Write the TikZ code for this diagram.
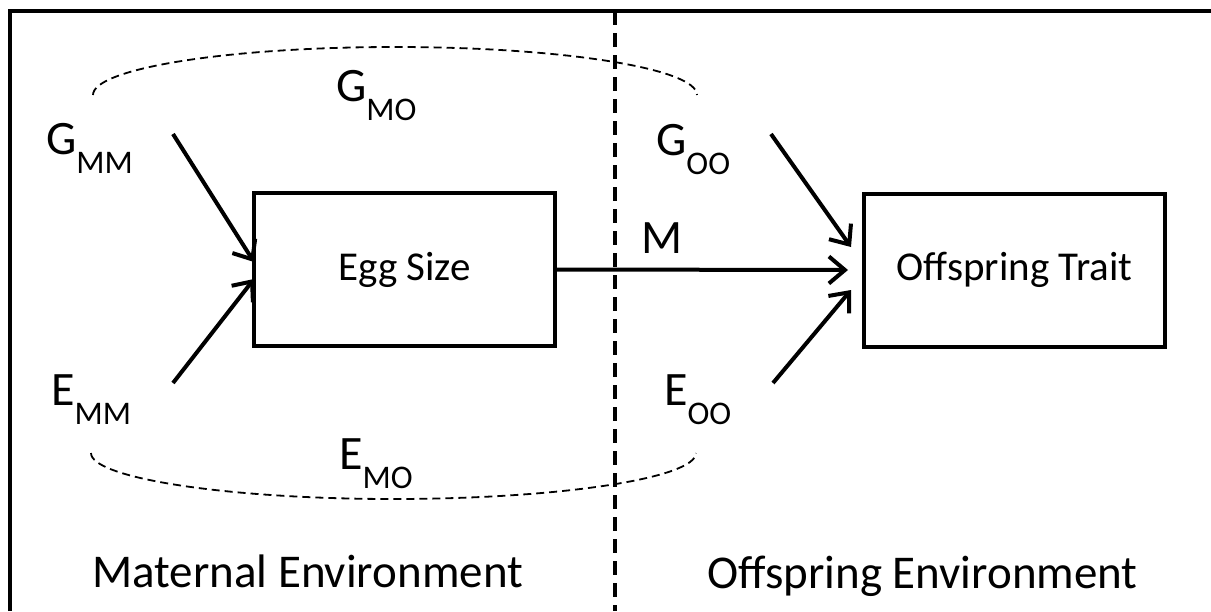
\documentclass[tikz,border=0pt]{standalone}
\usepackage{fontspec}
\setmainfont{Carlito}
\usetikzlibrary{arrows.meta}
\newcommand\lsub[1]{\raisebox{-19pt}{\fontsize{33}{33}\selectfont #1}}
\begin{document}
\begin{tikzpicture}[x=1pt,y=-1pt,
  boxst/.style={draw,line width=4pt,minimum width=301pt,minimum height=153pt,inner sep=0pt,font=\fontsize{41}{48}\selectfont},
  lab/.style={anchor=base west,inner sep=0pt,font=\fontsize{48}{52}\selectfont},
  envlab/.style={inner sep=0pt,font=\fontsize{47}{52}\selectfont},
  arr/.style={line width=4pt,-{Straight Barb[length=16pt,width=27pt]}},
  link/.style={line width=1.8pt,dash pattern=on 8pt off 5pt},
  divider/.style={line width=4pt,dash pattern=on 14pt off 8pt}
]
\useasboundingbox (0,0) rectangle (1211,611);
\fill[white] (0,0) rectangle (1211,611);
% frame
\draw[line width=4.5pt] (10,611) -- (10,11) -- (1211,11);
% divider
\coordinate (dtop) at (615,11);
\coordinate (dbot) at (615,611);
\draw[divider] (dtop) -- (dbot);
% boxes
\node[boxst] (egg) at (404.5,269.5) {Egg Size};
\node[boxst] (trait) at (1014.5,270) {Offspring Trait};
% labels
\node[lab] (gmm) at (46,154) {G\lsub{MM}};
\node[lab] (emm) at (51,405) {E\lsub{MM}};
\node[lab] (gmo) at (336,101) {G\lsub{MO}};
\node[lab] (emo) at (339,469) {E\lsub{MO}};
\node[lab] (goo) at (656,155) {G\lsub{OO}};
\node[lab] (eoo) at (664,405) {E\lsub{OO}};
\node[lab] (m) at (641,253) {M};
\node[envlab,anchor=base west] (matenv) at (92,587) {Maternal Environment};
\node[envlab,anchor=base east] (offenv) at (1138,588) {Offspring Environment};
% arrow end points
\coordinate (gmmS) at (173,134);
\coordinate (gmmT) at (254,262);
\coordinate (emmS) at (173,383);
\coordinate (emmT) at (254,279);
\coordinate (gooS) at (771,134);
\coordinate (gooT) at (851,247);
\coordinate (eooS) at (773,383);
\coordinate (eooT) at (851,290);
\draw[arr] (gmmS) -- (gmmT);
\draw[arr] (emmS) -- (emmT);
\draw[arr] (gooS) -- (gooT);
\draw[arr] (eooS) -- (eooT);
\draw[arr] (egg.east) -- ([xshift=-14pt]trait.west);
% dashed correlations
\coordinate (gL) at (93,95);
\coordinate (gM) at (395,47);
\coordinate (gR) at (697,95);
\draw[link] (gL) .. controls (93,68.5) and (228,47) .. (gM) .. controls (562,47) and (697,68.5) .. (gR);
\coordinate (eL) at (91,453);
\coordinate (eM) at (393,499);
\coordinate (eR) at (696,453);
\draw[link] (eL) .. controls (91,478) and (227,499) .. (eM) .. controls (560,499) and (696,478) .. (eR);
\end{tikzpicture}
\end{document}
